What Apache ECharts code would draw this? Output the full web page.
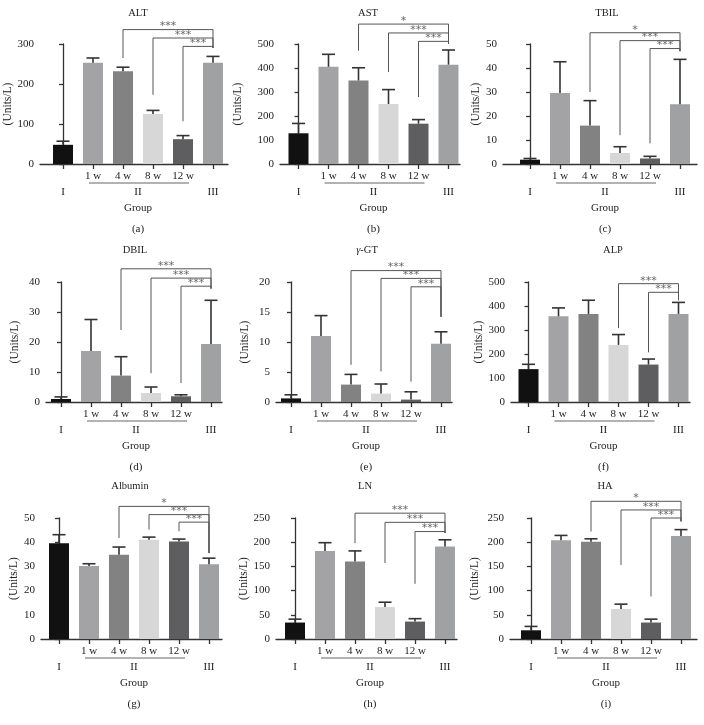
<!DOCTYPE html>
<html><head><meta charset="utf-8">
<script src="https://cdn.jsdelivr.net/npm/echarts@6/dist/echarts.min.js"></script>
<style>html,body{margin:0;padding:0;background:#fff}#c{width:704px;height:725px}</style>
</head><body><div id="c"></div>
<script>
// ---- data ----
const groups = ['I', '1 w', '4 w', '8 w', '12 w', 'III'];
const titles = ['ALT', 'AST', 'TBIL', 'DBIL', '{i|γ}-GT', 'ALP', 'Albumin', 'LN', 'HA'];
const captions = ['(a)', '(b)', '(c)', '(d)', '(e)', '(f)', '(g)', '(h)', '(i)'];
const yMax = [300, 500, 50, 40, 20, 500, 50, 250, 250];
const yStep = [100, 100, 10, 10, 5, 100, 10, 50, 50];

const ALT_mean = [48, 253, 232, 125, 62, 253];
const ALT_sd = [9, 12, 10, 9, 9, 16];
const AST_mean = [128, 405, 348, 250, 168, 414];
const AST_sd = [41, 52, 53, 60, 17, 61];
const TBIL_mean = [1.8, 29.6, 16, 4.6, 2.3, 24.9];
const TBIL_sd = [0.5, 13, 10.4, 2.6, 0.9, 18.7];
const DBIL_mean = [1.0, 17, 8.8, 3.0, 1.9, 19.3];
const DBIL_sd = [0.7, 10.5, 6.3, 2.0, 0.5, 14.6];
const GGT_mean = [0.6, 11.0, 2.9, 1.4, 0.4, 9.7];
const GGT_sd = [0.6, 3.4, 1.7, 1.6, 1.3, 2.0];
const ALP_mean = [137, 357, 367, 238, 156, 367];
const ALP_sd = [20, 35, 57, 43, 23, 48];
const ALB_mean = [39.6, 30.2, 34.8, 41.0, 40.3, 30.9];
const ALB_sd = [3.5, 0.9, 3.2, 1.1, 1.0, 2.5];
const LN_mean = [34, 182, 160, 66, 36, 191];
const LN_sd = [7, 17, 22, 10, 6, 14];
const HA_mean = [18, 204, 201, 62, 34, 213];
const HA_sd = [8, 10, 6, 10, 7, 13];

// significance brackets: [from, to, label, level, left leg end, right leg end] (values in data units)
const ALT_sig = [[2, 5, '***', 336, 265, 290], [3, 5, '***', 315, 173, 290], [4, 5, '***', 294, 107, 290]];
const AST_sig = [[2, 5, '*', 583, 472, 500], [3, 5, '***', 546, 383, 500], [4, 5, '***', 511, 279, 500]];
const TBIL_sig = [[2, 5, '*', 54.7, 30, 47], [3, 5, '***', 51.4, 12, 47], [4, 5, '***', 48.1, 8.6, 47]];
const DBIL_sig = [[2, 5, '***', 44.4, 24, 37.8], [3, 5, '***', 41.3, 9.6, 37.8], [4, 5, '***', 38.6, 6.3, 37.8]];
const GGT_sig = [[2, 5, '***', 21.9, 6.2, 14.2], [3, 5, '***', 20.6, 5.1, 14.2], [4, 5, '***', 19.2, 3.4, 14.2]];
const ALP_sig = [[3, 5, '***', 493, 308, 424], [4, 5, '***', 457, 207, 424]];
const ALB_sig = [[2, 5, '*', 54.8, 41.7, 35.5], [3, 5, '***', 51.4, 45.2, 35.5], [4, 5, '***', 48.3, 44.5, 35.5]];
const LN_sig = [[2, 5, '***', 260, 198, 219], [3, 5, '***', 241, 157, 219], [4, 5, '***', 222, 114, 219]];
const HA_sig = [[2, 5, '*', 284.5, 222, 243], [3, 5, '***', 266.6, 153, 243], [4, 5, '***', 250, 88, 243]];

const means = [ALT_mean, AST_mean, TBIL_mean, DBIL_mean, GGT_mean, ALP_mean, ALB_mean, LN_mean, HA_mean];
const sds = [ALT_sd, AST_sd, TBIL_sd, DBIL_sd, GGT_sd, ALP_sd, ALB_sd, LN_sd, HA_sd];
const sigs = [ALT_sig, AST_sig, TBIL_sig, DBIL_sig, GGT_sig, ALP_sig, ALB_sig, LN_sig, HA_sig];

// ---- layout / style ----
const layout = [
  {left: 40, right: 228, c0: 63, top: 44, bottom: 164, nameDist: 25, titleX: 138, titleY: 13},
  {left: 280, right: 460, c0: 298.5, top: 44, bottom: 164, nameDist: 42, titleX: 368, titleY: 13},
  {left: 503, right: 697, c0: 530, top: 44, bottom: 164, nameDist: 18, titleX: 607, titleY: 13},
  {left: 46, right: 222, c0: 61, top: 282, bottom: 402, nameDist: 31, titleX: 135, titleY: 250},
  {left: 276, right: 452, c0: 291, top: 282, bottom: 402, nameDist: 31, titleX: 367, titleY: 250},
  {left: 511, right: 690, c0: 528.5, top: 282, bottom: 402, nameDist: 28, titleX: 613, titleY: 250},
  {left: 41, right: 222, c0: 59, top: 518, bottom: 639, nameDist: 27, titleX: 130, titleY: 486},
  {left: 276, right: 457, c0: 295, top: 518, bottom: 639, nameDist: 31, titleX: 365, titleY: 486},
  {left: 510, right: 697, c0: 531, top: 518, bottom: 639, nameDist: 35, titleX: 605, titleY: 486}
];
const SP = 30;
const barColors = ['#111111', '#a3a3a5', '#828283', '#d7d7d7', '#5e5e60', '#a0a1a3'];
const FONT = 'Liberation Serif';
const TXT = '#222';
const AX = '#333';

const grid = [], xAxis = [], yAxis = [], series = [], graphic = [];
layout.forEach((g, i) => {
  const xmin = -(g.c0 - g.left) / SP, xmax = (g.right - g.c0) / SP;
  grid.push({left: g.left, top: g.top, width: g.right - g.left, height: g.bottom - g.top});
  xAxis.push({
    type: 'value', gridIndex: i, min: xmin, max: xmax, position: 'bottom',
    axisLine: {show: true, onZero: false, lineStyle: {color: AX, width: 1.3}},
    axisTick: {show: true, customValues: [0, 1, 2, 3, 4, 5], length: 5, lineStyle: {color: AX, width: 1.3}},
    axisLabel: {customValues: [1, 2, 3, 4], formatter: v => groups[Math.round(v)], margin: 7,
      fontSize: 11, fontFamily: FONT, color: TXT},
    splitLine: {show: false}
  });
  xAxis.push({
    type: 'value', gridIndex: i, min: xmin, max: xmax, position: 'bottom',
    axisLine: {show: false}, axisTick: {show: false}, splitLine: {show: false},
    axisLabel: {customValues: [0, 2.5, 5], margin: 20, fontFamily: FONT, color: TXT,
      formatter: v => v === 0 ? '{n|I}' : (v === 5 ? '{n|III}' : '{n|II}\n{n|Group}\n{c|' + captions[i] + '}'),
      rich: {n: {fontSize: 11, lineHeight: 16, fontFamily: FONT, color: TXT},
             c: {fontSize: 11, lineHeight: 26, fontFamily: FONT, color: TXT}}}
  });
  yAxis.push({
    type: 'value', gridIndex: i, min: 0, max: yMax[i], interval: yStep[i],
    axisLine: {show: true, lineStyle: {color: AX, width: 1.3}},
    axisTick: {show: true, length: 4, lineStyle: {color: AX, width: 1.3}},
    axisLabel: {margin: 6, fontSize: 11, fontFamily: FONT, color: TXT},
    splitLine: {show: false},
    name: '(Units/L)', nameLocation: 'middle', nameGap: g.nameDist - 6,
    nameTextStyle: {fontSize: 11.5, fontFamily: FONT, color: TXT}
  });
  const m = means[i], s = sds[i], sg = sigs[i];
  series.push({
    type: 'bar', xAxisIndex: 2 * i, yAxisIndex: i, barWidth: 20, silent: true,
    data: m.map((v, k) => ({value: [k, v], itemStyle: {color: barColors[k]}}))
  });
  series.push({
    type: 'custom', xAxisIndex: 2 * i, yAxisIndex: i, silent: true, z: 3,
    data: m.map((v, k) => [k, v, s[k]]),
    renderItem: (params, api) => {
      const x = api.value(0), mv = api.value(1), sv = api.value(2);
      const p0 = api.coord([x, mv]), p1 = api.coord([x, mv + sv]);
      const st = {stroke: '#333', lineWidth: 1.6};
      return {type: 'group', children: [
        {type: 'line', shape: {x1: p0[0], y1: p0[1], x2: p1[0], y2: p1[1]}, style: st},
        {type: 'line', shape: {x1: p1[0] - 6.5, y1: p1[1], x2: p1[0] + 6.5, y2: p1[1]}, style: st}
      ]};
    }
  });
  series.push({
    type: 'custom', xAxisIndex: 2 * i, yAxisIndex: i, silent: true, z: 4,
    data: sg.map(b => [b[0], b[3]]),
    renderItem: (params, api) => {
      const b = sg[params.dataIndex];
      const pl = api.coord([b[0], b[3]]), pr = api.coord([b[1], b[3]]);
      const legL = api.coord([b[0], b[4]]), legR = api.coord([b[1], b[5]]);
      return {type: 'group', children: [
        {type: 'polyline', shape: {points: [[pl[0], legL[1]], [pl[0], pl[1]], [pr[0], pr[1]], [pr[0], legR[1]]]},
         style: {stroke: '#555', lineWidth: 1, fill: null}},
        {type: 'text', x: (pl[0] + pr[0]) / 2, y: pl[1] + 2.5,
         style: {text: b[2], align: 'center', verticalAlign: 'bottom', fontSize: 11, fontFamily: 'DejaVu Sans', fill: '#666'}}
      ]};
    }
  });
  series.push({
    type: 'custom', xAxisIndex: 2 * i, yAxisIndex: i, silent: true,
    data: [[1, 4]],
    renderItem: (params, api) => {
      const a = api.coord([api.value(0), 0]), b = api.coord([api.value(1), 0]);
      return {type: 'line', shape: {x1: a[0] - 4, y1: a[1] + 19, x2: b[0] + 6, y2: b[1] + 19},
        style: {stroke: '#666', lineWidth: 1}};
    }
  });
  graphic.push({type: 'text', x: g.titleX, y: g.titleY,
    style: {text: titles[i], align: 'center', verticalAlign: 'middle', fontSize: 10.5, fontFamily: FONT, fill: TXT,
      rich: {i: {fontStyle: 'italic', fontSize: 10.5, fontFamily: FONT, fill: TXT}}}});
});

const chart = echarts.init(document.getElementById('c'), null, {renderer: 'canvas'});
chart.setOption({animation: false, backgroundColor: '#fff', grid, xAxis, yAxis, series, graphic});
</script>
</body></html>
